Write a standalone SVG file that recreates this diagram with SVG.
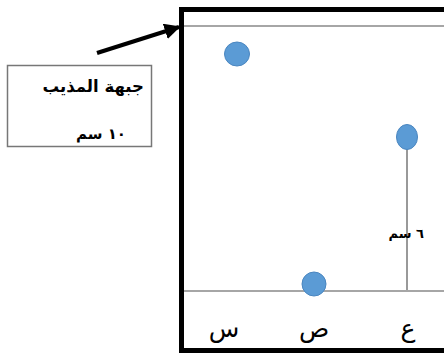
<svg xmlns="http://www.w3.org/2000/svg" width="444" height="354" viewBox="0 0 444 354">
<style>
.ar{font-family:"DejaVu Sans","Noto Sans",sans-serif;fill:#000}
.dot{fill:#5b9bd5;stroke:#4a86c0;stroke-width:1}
.thin{stroke:#888;stroke-width:1.5;fill:none}
</style>
<defs>
<marker id="ah" viewBox="0 0 10 10" refX="9" refY="5" markerWidth="4" markerHeight="4" orient="auto" markerUnits="strokeWidth">
<path d="M0,0 L10,5 L0,10 z" fill="#000"/>
</marker>
</defs>
<rect width="444" height="354" fill="#fff"/>
<g id="plate">
<rect x="181.5" y="9.5" width="275" height="341" fill="none" stroke="#000" stroke-width="5"/>
<line class="thin" x1="184" y1="26" x2="444" y2="26"/>
<line class="thin" x1="184" y1="291" x2="444" y2="291"/>
</g>
<g id="label-box">
<rect x="7.5" y="65.5" width="144" height="81" fill="#fff" stroke="#777" stroke-width="1.5"/>
<text class="ar" x="144" y="92" font-size="16.5" font-weight="bold" text-anchor="end">جبهة المذيب</text>
<text class="ar" x="126" y="139" font-size="15" font-weight="bold" text-anchor="end">١٠ سم</text>
</g>
<g id="connectors">
<line x1="97" y1="53" x2="179" y2="27" stroke="#000" stroke-width="4" marker-end="url(#ah)"/>
<line x1="407" y1="148" x2="407" y2="290" stroke="#555" stroke-width="1.2"/>
</g>
<g id="spot-s"><ellipse class="dot" cx="237" cy="54" rx="12.5" ry="12"/></g>
<g id="spot-a"><ellipse class="dot" cx="407" cy="137" rx="10.5" ry="12.5"/></g>
<g id="spot-p"><ellipse class="dot" cx="314" cy="284" rx="12" ry="12"/></g>
<text class="ar" x="424" y="238" font-size="13" font-weight="bold" text-anchor="end">٦ سم</text>
<g id="labels">
<text class="ar" x="224" y="337" font-size="25" text-anchor="middle">س</text>
<text class="ar" x="314" y="337" font-size="25" text-anchor="middle">ص</text>
<text class="ar" x="408" y="337" font-size="25" text-anchor="middle">ع</text>
</g>
</svg>
